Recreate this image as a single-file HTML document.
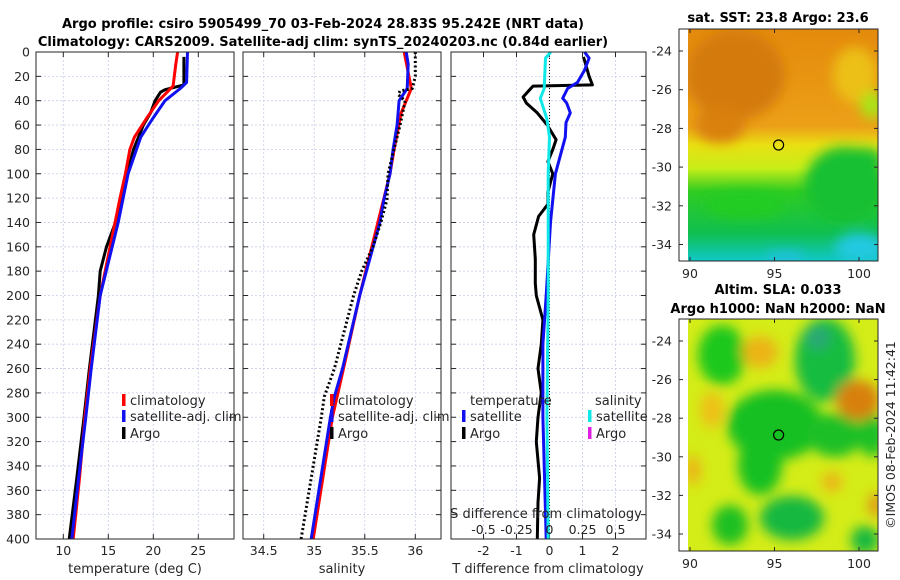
<!DOCTYPE html>
<html><head><meta charset="utf-8">
<style>
html,body{margin:0;padding:0;background:#fff;}
svg{display:block;font-family:"DejaVu Sans","Liberation Sans",sans-serif;}
.tk{font-size:12.5px;fill:#262626;}
.ttl{font-size:13px;font-weight:bold;fill:#000;}
.lg{font-size:13px;fill:#262626;}
</style></head>
<body>
<svg id="fig" width="900" height="580" viewBox="0 0 900 580">
<defs>
<filter id="bl" x="-20%" y="-20%" width="140%" height="140%"><feGaussianBlur stdDeviation="6"/></filter>
<clipPath id="c1"><rect x="688" y="29" width="190" height="232"/></clipPath>
<clipPath id="c2"><rect x="688" y="319" width="190" height="232"/></clipPath>
<linearGradient id="sstg" x1="0" y1="0" x2="0" y2="1">
<stop offset="0" stop-color="#e48a0c"/><stop offset="0.42" stop-color="#eca018"/>
<stop offset="0.5" stop-color="#e9e012"/><stop offset="0.6" stop-color="#c8ee18"/>
<stop offset="0.7" stop-color="#30cc22"/><stop offset="0.88" stop-color="#10bf50"/>
<stop offset="1" stop-color="#10c8c8"/></linearGradient>
</defs>
<text class="ttl" x="323" y="28" text-anchor="middle">Argo profile: csiro 5905499_70 03-Feb-2024 28.83S 95.242E (NRT data)</text>
<text class="ttl" x="323" y="46" text-anchor="middle">Climatology: CARS2009. Satellite-adj clim: synTS_20240203.nc (0.84d earlier)</text>
<g id="plots"></g>

<g>
<text class="ttl" x="778" y="22" text-anchor="middle">sat. SST: 23.8 Argo: 23.6</text>
<g clip-path="url(#c1)">
<rect x="688" y="29" width="190" height="232" fill="url(#sstg)"/>
<g filter="url(#bl)">
<ellipse cx="735" cy="75" rx="50" ry="45" fill="#d47a08"/>
<ellipse cx="720" cy="125" rx="25" ry="18" fill="#d98010"/>
<ellipse cx="855" cy="75" rx="22" ry="28" fill="#ecc012"/>
<ellipse cx="872" cy="105" rx="12" ry="14" fill="#a8e418"/>
<ellipse cx="845" cy="185" rx="40" ry="38" fill="#12c030"/>
<ellipse cx="862" cy="160" rx="22" ry="12" fill="#12c030"/>
<ellipse cx="745" cy="205" rx="40" ry="14" fill="#22cc22"/>
<ellipse cx="860" cy="248" rx="25" ry="15" fill="#20c8e0"/>
<ellipse cx="785" cy="258" rx="20" ry="6" fill="#20c0e0"/>
</g></g>
<rect x="679" y="29" width="199" height="232" fill="none" stroke="#262626" stroke-width="1"/>
<circle cx="778.6" cy="145" r="5" fill="none" stroke="#000" stroke-width="1.2"/>
</g>

<g>
<text class="ttl" x="778" y="294" text-anchor="middle">Altim. SLA: 0.033</text>
<text class="ttl" x="778" y="313" text-anchor="middle">Argo h1000: NaN h2000: NaN</text>
<g clip-path="url(#c2)">
<rect x="688" y="319" width="190" height="232" fill="#d4ec18"/>
<g filter="url(#bl)">
<ellipse cx="722" cy="355" rx="24" ry="30" fill="#1ec81e"/>
<ellipse cx="825" cy="360" rx="30" ry="42" fill="#18bc40"/>
<ellipse cx="818" cy="338" rx="12" ry="12" fill="#2aa878"/>
<ellipse cx="775" cy="425" rx="48" ry="35" fill="#18c020"/>
<ellipse cx="760" cy="465" rx="22" ry="30" fill="#18c020"/>
<ellipse cx="835" cy="435" rx="28" ry="22" fill="#1cc028"/>
<ellipse cx="872" cy="435" rx="14" ry="22" fill="#1cc028"/>
<ellipse cx="792" cy="518" rx="32" ry="22" fill="#18b840"/>
<ellipse cx="730" cy="525" rx="18" ry="20" fill="#1cc020"/>
<ellipse cx="865" cy="540" rx="14" ry="14" fill="#18b840"/>
<ellipse cx="760" cy="352" rx="18" ry="16" fill="#ecb418"/>
<ellipse cx="712" cy="410" rx="12" ry="18" fill="#eec018"/>
<ellipse cx="858" cy="400" rx="22" ry="20" fill="#d88010"/>
<ellipse cx="693" cy="470" rx="8" ry="15" fill="#ecb418"/>
<ellipse cx="832" cy="482" rx="10" ry="10" fill="#ecb418"/>
<ellipse cx="876" cy="505" rx="8" ry="12" fill="#e09818"/>
</g></g>
<rect x="679" y="319" width="199" height="232" fill="none" stroke="#262626" stroke-width="1"/>
<circle cx="778.6" cy="435" r="5" fill="none" stroke="#000" stroke-width="1.2"/>
</g>
<text class="tk" transform="translate(895,435) rotate(-90)" text-anchor="middle">©IMOS 08-Feb-2024 11:42:41</text>
</svg>
<script>
const depthTicks = [0,20,40,60,80,100,120,140,160,180,200,220,240,260,280,300,320,340,360,380,400];
const tClimDepth = [0,10,28,40,55,70,80,100,120,160,200,260,300,350,400];
const tClim      = [22.7,22.5,22.2,20.6,19.2,17.9,17.4,16.9,16.3,15.2,14.1,13.0,12.4,11.8,11.1];
const tSatDepth  = [0,25,30,40,55,70,100,140,200,260,300,350,400];
const tSat       = [23.8,23.7,23.0,21.3,19.9,18.6,17.2,16.1,14.1,13.1,12.5,11.7,10.95];
const tArgoDepth = [4,27,31,33,40,50,60,80,100,140,160,180,200,260,300,350,400];
const tArgo      = [23.4,23.4,21.3,20.8,20.2,19.7,18.9,17.8,17.1,15.8,14.8,14.1,13.9,12.9,12.3,11.5,10.65];
const sClimDepth = [0,30,50,80,100,140,200,260,300,400];
const sClim      = [35.89,35.96,35.86,35.79,35.75,35.63,35.45,35.29,35.18,34.99];
const sSatDepth  = [0,10,30,40,60,80,100,121,140,200,260,283,300,400];
const sSat       = [35.91,35.93,35.92,35.84,35.82,35.78,35.75,35.69,35.65,35.45,35.28,35.2,35.16,34.97];
const sArgoDepth = [0,20,30,32,35,40,60,100,121,140,160,180,200,260,283,300,400];
const sArgo      = [36.0,36.0,35.97,35.85,35.83,35.9,35.85,35.73,35.72,35.66,35.58,35.47,35.39,35.2,35.1,35.07,34.87];
const dTsatDepth = [0,5,15,25,30,38,42,50,58,70,100,140,200,240,300,400];
const dTsat      = [1.06,1.2,1.06,0.85,0.55,0.4,0.52,0.63,0.5,0.48,0.18,0.03,-0.1,-0.2,-0.2,-0.1];
const dTargoDepth= [4,20,27,28,31,37,42,50,60,72,80,90,100,115,125,135,150,170,190,200,220,240,260,280,300,320,350,370,400];
const dTargo     = [1.03,1.2,1.3,-0.5,-0.6,-0.8,-0.7,-0.37,-0.07,0.2,0.1,-0.05,0.1,-0.05,-0.05,-0.33,-0.48,-0.43,-0.43,-0.4,-0.2,-0.25,-0.35,-0.25,-0.35,-0.4,-0.3,-0.35,-0.37];
const dSsatDepth = [0,5,30,38,55,70,100,140,200,300,400];
const dSsat      = [0.01,-0.03,-0.04,-0.07,-0.02,0.0,-0.01,-0.01,-0.01,-0.02,-0.01];
const tTicks = [10,15,20,25];
const sTicks = [34.5,35,35.5,36];
const dTTicks = [-2,-1,0,1,2];
const dSTicks = [-0.5,-0.25,0,0.25,0.5];
const dSTickLabels = ['-0.5','-0.25','0','0.25','0.5'];
const latTicks = [-24,-26,-28,-30,-32,-34];
const lonTicks = [90,95,100];

const NS='http://www.w3.org/2000/svg';
const G=document.getElementById('plots');
const Y0=52, Y1=539;
function yD(d){return Y0+(Y1-Y0)*d/400;}
function lin(d0,d1,p0,p1){return v=>p0+(v-d0)*(p1-p0)/(d1-d0);}
const xT=lin(10,25,63.3,198.3);
const xS=lin(34.5,36,263.7,415.3);
const xDT=lin(-2,2,483.5,615.5);
const xDS=lin(-0.5,0.5,483.5,615.5);
const panels=[{x0:36,x1:234},{x0:243,x1:441},{x0:451,x1:646}];
function mk(tag,attrs,parent){const e=document.createElementNS(NS,tag);for(const k in attrs)e.setAttribute(k,attrs[k]);(parent||G).appendChild(e);return e;}
function txt(s,x,y,cls,anchor,parent){const e=mk('text',{x:x,y:y,class:cls,'text-anchor':anchor||'start'},parent);e.textContent=s;return e;}

panels.forEach((p,i)=>{
  depthTicks.forEach(d=>{
    const l=mk('line',{x1:p.x0,x2:p.x1,y1:yD(d),y2:yD(d),stroke:'#c8cde8','stroke-width':0.8,'stroke-dasharray':'2,2'});
    
    
    mk('line',{x1:p.x0,x2:p.x0+5,y1:yD(d),y2:yD(d),stroke:'#262626'});
    mk('line',{x1:p.x1-5,x2:p.x1,y1:yD(d),y2:yD(d),stroke:'#262626'});
  });
});
depthTicks.forEach(d=>{
  const t=txt(String(d),30,yD(d)+4.5,'tk','end');
  
  
});
function vgrid(ticks,fx,p,labels,ly,name){
  ticks.forEach((v,i)=>{
    const x=fx(v);
    const l=mk('line',{x1:x,x2:x,y1:Y0,y2:Y1,stroke:'#c8cde8','stroke-width':0.8,'stroke-dasharray':'2,2'});
    
    
    mk('line',{x1:x,x2:x,y1:Y1-5,y2:Y1,stroke:'#262626'});
    mk('line',{x1:x,x2:x,y1:Y0,y2:Y0+5,stroke:'#262626'});
    if(labels){const t=txt(labels[i],x,ly,'tk','middle');
      
      }
  });
}
vgrid(tTicks,xT,panels[0],tTicks.map(String),555,'temperature');
vgrid(sTicks,xS,panels[1],sTicks.map(String),555,'salinity');
vgrid(dTTicks,xDT,panels[2],dTTicks.map(String),555,'t-diff');
const z=mk('line',{x1:xDT(0),x2:xDT(0),y1:Y0,y2:Y1,stroke:'#000','stroke-width':1,'stroke-dasharray':'1,2'});



function line(ds,vs,fx,color,name,dash,w){
  const pts=ds.map((d,i)=>fx(vs[i]).toFixed(1)+','+yD(d).toFixed(1)).join(' ');
  const a={points:pts,fill:'none',stroke:color,'stroke-width':w||3,'stroke-linejoin':'round'};
  if(dash)a['stroke-dasharray']=dash;
  const e=mk('polyline',a);
  
  
}
line(tArgoDepth,tArgo,xT,'#000','temp-argo-line');
line(tClimDepth,tClim,xT,'#f00','temp-climatology-line');
line(tSatDepth,tSat,xT,'#1010f0','temp-satellite-line');
line(sClimDepth,sClim,xS,'#f00','sal-climatology-line');
line(sSatDepth,sSat,xS,'#1010f0','sal-satellite-line');
line(sArgoDepth,sArgo,xS,'#000','sal-argo-line','2,2.5');
line(dTargoDepth,dTargo,xDT,'#000','tdiff-argo-line');
line(dTsatDepth,dTsat,xDT,'#1010f0','tdiff-satellite-line');
line(dSsatDepth,dSsat,xDS,'#10e8e8','sdiff-satellite-line');

panels.forEach((p,i)=>{
  const r=mk('rect',{x:p.x0,y:Y0,width:p.x1-p.x0,height:Y1-Y0,fill:'none',stroke:'#262626','stroke-width':1});
  
  
});
[['temperature (deg C)',135,573,'temperature-axis-title'],['salinity',342,573,'salinity-axis-title'],['T difference from climatology',548,573,'t-diff-axis-title']].forEach(a=>{
  const t=txt(a[0],a[1],a[2],'lg','middle');
  
  
});
const st=txt('S difference from climatology',546,518,'lg','middle');


dSTicks.forEach((v,i)=>{
  const t=txt(dSTickLabels[i],xDS(v),534,'tk','middle');
  
  
});

function leg(x,y,color,label,name){
  mk('rect',{x:x,y:y-11,width:3.5,height:12,fill:color});
  const t=txt(label,x+8,y,'lg','start');
  
  
}
leg(122,405,'#f00','climatology','legend-climatology');
leg(122,421,'#1010f0','satellite-adj. clim','legend-satellite-adj');
leg(122,438,'#000','Argo','legend-argo');
leg(330,405,'#f00','climatology','legend-sal-climatology');
leg(330,421,'#1010f0','satellite-adj. clim','legend-sal-satellite-adj');
leg(330,438,'#000','Argo','legend-sal-argo');
const lt=txt('temperature',470,405,'lg','start');


const ls=txt('salinity',595,405,'lg','start');


leg(462,421,'#1010f0','satellite','legend-tdiff-satellite');
leg(462,438,'#000','Argo','legend-tdiff-argo');
leg(588,421,'#10e8e8','satellite','legend-sdiff-satellite');
leg(588,438,'#e020e0','Argo','legend-sdiff-argo');

const F=document.getElementById('fig');
const lonX=lin(90,100,690,859);
[[51,19.35,261,29],[341,19.3,551,319]].forEach((m,k)=>{
  latTicks.forEach(v=>{
    const y=m[0]+(-24-v)*m[1];
    mk('line',{x1:679,x2:683,y1:y,y2:y,stroke:'#262626'},F);
    mk('line',{x1:874,x2:878,y1:y,y2:y,stroke:'#262626'},F);
    const t=txt(String(v),672,y+4.5,'tk','end',F);
    
    
  });
  lonTicks.forEach(v=>{
    const x=lonX(v);
    mk('line',{x1:x,x2:x,y1:m[2]-4,y2:m[2],stroke:'#262626'},F);
    mk('line',{x1:x,x2:x,y1:m[3],y2:m[3]+4,stroke:'#262626'},F);
    const t=txt(String(v),x,m[2]+17,'tk','middle',F);
    
    
  });
});
</script>
</body></html>
